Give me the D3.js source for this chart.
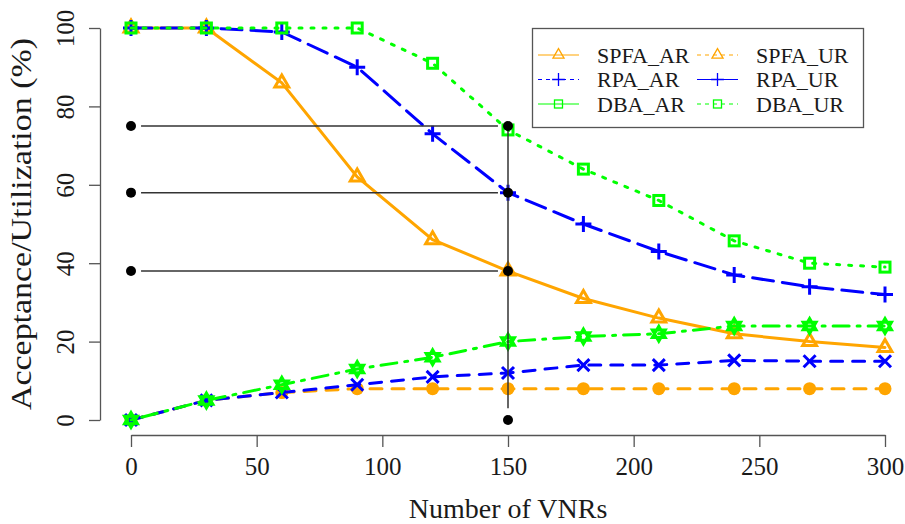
<!DOCTYPE html>
<html>
<head>
<meta charset="utf-8" />
<title></title>
<style>
html, body {
    padding: 0px;
    margin: 0px;
    background: #fff;
}
svg text {
    font-family: "Liberation Serif", serif;
    fill: #1a1a1a;
}
</style>
</head>
<body>
<svg id="chart" width="905" height="524"></svg>
<script src="https://cdnjs.cloudflare.com/ajax/libs/d3/7.8.5/d3.min.js"></script>
<script>
!(function(){
    "use strict"

    // data
    var vnrs = [0, 30, 60, 90, 120, 150, 180, 210, 240, 270, 300]
    var spfaAR = [100, 100, 86, 62, 46, 38, 31, 26, 22, 20, 18.5]
    var rpaAR  = [100, 100, 99, 90, 73, 58, 50, 43, 37, 34, 32]
    var dbaAR  = [100, 100, 100, 100, 91, 74, 64, 56, 45.7, 40, 39]
    var spfaUR = [0, 5, 7, 8, 8, 8, 8, 8, 8, 8, 8]
    var rpaUR  = [0, 5, 7, 9, 11, 12, 14, 14, 15.2, 15, 15]
    var dbaUR  = [0, 5, 9, 13, 16, 20, 21.3, 22, 24, 24, 24]

    var xTicks = [0, 50, 100, 150, 200, 250, 300]
    var yTicks = [0, 20, 40, 60, 80, 100]

    // reference marks: dots and segments around x = 150
    var refDots = [[0, 75], [0, 58], [0, 38], [150, 75], [150, 58], [150, 38], [150, 0]]
    var refSegs = [[4, 75, 146, 75], [4, 58, 146, 58], [4, 38, 146, 38], [150, 75, 150, 3]]

    var legendNames = ["SPFA_AR", "SPFA_UR", "RPA_AR", "RPA_UR", "DBA_AR", "DBA_UR"]

    var orange = "#FFA500", blue = "#0000FF", green = "#00FF00"

    var series = [
        {vals: spfaAR, color: orange, dash: null, pch: "tri"},
        {vals: rpaAR, color: blue, dash: "21,9", pch: "plus"},
        {vals: dbaAR, color: green, dash: "3,9", pch: "square"},
        {vals: spfaUR, color: orange, dash: "12,10", pch: "circle"},
        {vals: rpaUR, color: blue, dash: "12,10", pch: "cross"},
        {vals: dbaUR, color: green, dash: "3,8,16,8", pch: "star"}
    ]
    // legend entries (as the original legend shows them)
    var legendSpec = [
        {color: orange, dash: null, pch: "tri"},
        {color: orange, dash: "4,4", pch: "tri"},
        {color: blue, dash: "4,4", pch: "plus"},
        {color: blue, dash: null, pch: "plus"},
        {color: green, dash: null, pch: "square"},
        {color: green, dash: "4,4", pch: "square"}
    ]

    var serif = "'Liberation Serif', serif"
    var svg = d3.select("#chart")

    var x = d3.scaleLinear().domain([0, 300]).range([131, 885])
    var y = d3.scaleLinear().domain([0, 100]).range([420, 28])

    // axes
    var xAxis = svg.append("g")
        .attr("transform", "translate(0,435)")
        .call(d3.axisBottom(x).tickValues(xTicks).tickSize(12).tickSizeOuter(0).tickPadding(10))
    var yAxis = svg.append("g")
        .attr("transform", "translate(100,0)")
        .call(d3.axisLeft(y).tickValues(yTicks).tickSize(11).tickSizeOuter(0).tickPadding(9))

    svg.selectAll("g").attr("font-family", serif)
    svg.selectAll(".domain").attr("stroke", "#555").attr("stroke-width", 1.3)
    svg.selectAll(".tick line").attr("stroke", "#555").attr("stroke-width", 1.3)
    svg.selectAll(".tick text")
        .attr("font-family", serif)
        .style("font-size", "25px")
        .attr("fill", "#1a1a1a")
    yAxis.selectAll(".tick text")
        .attr("text-anchor", "middle")
        .attr("dy", "0")
        .attr("transform", "translate(-35,0) rotate(-90)")
        .attr("x", 0)
        .attr("y", 0)
        .attr("dominant-baseline", "central")

    svg.append("text")
        .attr("x", 508).attr("y", 518)
        .attr("text-anchor", "middle")
        .attr("font-family", serif)
        .style("font-size", "28px")
        .text("Number of VNRs")

    svg.append("text")
        .attr("transform", "translate(31,224) rotate(-90)")
        .attr("text-anchor", "middle")
        .attr("font-family", serif)
        .attr("textLength", 372)
        .attr("lengthAdjust", "spacingAndGlyphs")
        .style("font-size", "29px")
        .text("Acceptance/Utilization (%)")

    // marker drawing
    function marker(g, kind, cx, cy, color, k, sw) {
        var r
        if (kind == "tri") {
            r = 8 * k
            g.append("path")
                .attr("d", "M" + cx + "," + (cy - r) + "L" + (cx + r * 0.866) + "," + (cy + r * 0.5) + "L" + (cx - r * 0.866) + "," + (cy + r * 0.5) + "Z")
                .attr("fill", "none").attr("stroke", color).attr("stroke-width", sw)
        } else if (kind == "square") {
            r = 5 * k
            g.append("rect").attr("x", cx - r).attr("y", cy - r).attr("width", 2 * r).attr("height", 2 * r)
                .attr("fill", "none").attr("stroke", color).attr("stroke-width", sw)
        } else if (kind == "plus") {
            r = 8 * k
            g.append("path").attr("d", "M" + (cx - r) + "," + cy + "H" + (cx + r) + "M" + cx + "," + (cy - r) + "V" + (cy + r))
                .attr("stroke", color).attr("stroke-width", sw)
        } else if (kind == "cross") {
            r = 6 * k
            g.append("path").attr("d", "M" + (cx - r) + "," + (cy - r) + "L" + (cx + r) + "," + (cy + r) + "M" + (cx - r) + "," + (cy + r) + "L" + (cx + r) + "," + (cy - r))
                .attr("stroke", color).attr("stroke-width", sw)
        } else if (kind == "circle") {
            g.append("circle").attr("cx", cx).attr("cy", cy).attr("r", 6.5 * k).attr("fill", color)
        } else if (kind == "star") {
            r = 7.5 * k
            g.append("path")
                .attr("d", "M" + cx + "," + (cy - r) + "L" + (cx + r * 0.866) + "," + (cy + r * 0.5) + "L" + (cx - r * 0.866) + "," + (cy + r * 0.5) + "Z" +
                    "M" + cx + "," + (cy + r) + "L" + (cx + r * 0.866) + "," + (cy - r * 0.5) + "L" + (cx - r * 0.866) + "," + (cy - r * 0.5) + "Z")
                .attr("fill", "none").attr("stroke", color).attr("stroke-width", sw)
        }
    }

    var line = d3.line()
        .x(function(d, i){ return x(vnrs[i]) })
        .y(function(d){ return y(d) })

    var plot = svg.append("g")
    series.forEach(function(s) {
        var g = plot.append("g")
        g.append("path")
            .attr("d", line(s.vals))
            .attr("fill", "none")
            .attr("stroke", s.color)
            .attr("stroke-width", 3)
            .attr("stroke-linecap", "round")
            .attr("stroke-dasharray", s.dash)
        s.vals.forEach(function(v, i) {
            marker(g, s.pch, x(vnrs[i]), y(v), s.color, 1, 3)
        })
    })

    // reference lines and dots
    svg.append("g").selectAll("line")
        .data(refSegs)
        .enter().append("line")
        .attr("x1", function(d){ return x(d[0]) })
        .attr("y1", function(d){ return y(d[1]) })
        .attr("x2", function(d){ return x(d[2]) })
        .attr("y2", function(d){ return y(d[3]) })
        .attr("stroke", "#333")
        .attr("stroke-width", 1.5)
    svg.append("g").selectAll("circle")
        .data(refDots)
        .enter().append("circle")
        .attr("cx", function(d){ return x(d[0]) })
        .attr("cy", function(d){ return y(d[1]) })
        .attr("r", 5)
        .attr("fill", "#000")

    // legend
    var lg = svg.append("g")
    lg.append("rect")
        .attr("x", 532.5).attr("y", 28.5).attr("width", 331).attr("height", 99)
        .attr("fill", "#fff").attr("stroke", "#555").attr("stroke-width", 1.3)
    legendNames.forEach(function(name, i) {
        var col = i % 2, row = Math.floor(i / 2)
        var lx = col == 0 ? 538 : 697
        var ly = 55 + row * 24.5
        var spec = legendSpec[i]
        var g = lg.append("g")
        g.append("line")
            .attr("x1", lx).attr("x2", lx + 41)
            .attr("y1", ly).attr("y2", ly)
            .attr("stroke", spec.color)
            .attr("stroke-width", 1.2)
            .attr("stroke-dasharray", spec.dash)
        marker(g, spec.pch, lx + 20.5, ly, spec.color, 0.8, 1.3)
        g.append("text")
            .attr("x", lx + 59).attr("y", ly + 7.5)
            .attr("font-family", serif)
            .style("font-size", "22px")
            .text(name)
    })

}());
</script>
</body>
</html>
